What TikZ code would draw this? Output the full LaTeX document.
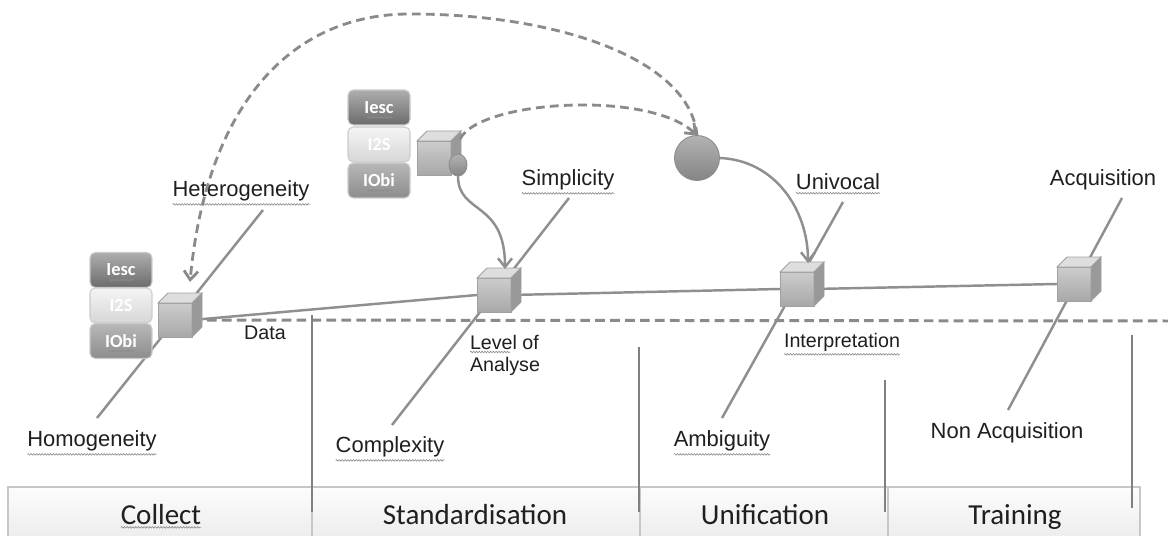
\documentclass[tikz,border=0pt]{standalone}
\usepackage{fontspec}
\setmainfont{Liberation Sans}
\newfontfamily\calib{Carlito}
\usetikzlibrary{arrows.meta,decorations.pathmorphing,shapes.geometric,backgrounds,calc}
\definecolor{lg}{HTML}{8F8F8F}
\definecolor{dg}{HTML}{8A8A8A}
\definecolor{cedge}{HTML}{A0A0A0}
\newcommand\mkcube[2]{%
  \node[cubefront] (#1) at (#2) {};
  \filldraw[cubetop] (#1.north west) -- ++(10,-10) -- ++(34,0) -- (#1.north east) -- cycle;
  \filldraw[cubeside] (#1.north east) -- ++(10,-10) -- ++(0,34) -- (#1.south east) -- cycle;
}
\newcommand\squig[1]{\draw[squiggle] ([yshift=-1.8pt]#1.south west) -- ([yshift=-1.8pt]#1.south east);}
\begin{document}
\begin{tikzpicture}[x=0.02cm,y=-0.02cm,
  lbl/.style={font=\fontsize{12.5}{14}\selectfont, inner sep=0pt, outer sep=0pt, text=black!88},
  slbl/.style={font=\fontsize{11.2}{12.6}\selectfont, inner sep=0pt, outer sep=0pt, text=black!88},
  barlbl/.style={font=\calib\fontsize{16.5}{18}\selectfont, inner sep=0pt, outer sep=0pt, anchor=base, text=black!88},
  glin/.style={draw=lg, line width=1.4pt},
  dline/.style={draw=dg, line width=1.7pt, dash pattern=on 5.5pt off 3pt},
  darc/.style={draw=dg, line width=1.6pt, dash pattern=on 5pt off 3pt, -{Straight Barb[length=5pt,width=8pt]}},
  garr/.style={draw=lg, line width=1.4pt, -{Straight Barb[length=5pt,width=8pt]}},
  cubefront/.style={minimum size=0.68cm, inner sep=0pt, outer sep=0pt, draw=cedge, line width=0.5pt, top color=black!20, bottom color=black!34},
  cubetop/.style={draw=cedge, line width=0.5pt, fill=black!13},
  cubeside/.style={draw=cedge, line width=0.5pt, fill=black!40},
  ball/.style={draw=black!45, line width=0.5pt, top color=black!30, bottom color=black!48, inner sep=0pt, outer sep=0pt},
  sbox/.style={rounded corners=3pt, minimum width=1.24cm, minimum height=0.7cm, inner sep=0pt, outer sep=0pt, font=\calib\bfseries\fontsize{10.5}{12}\selectfont, text=white, draw=black!20, line width=0.6pt},
  boxa/.style={sbox, top color=black!32, bottom color=black!58},
  boxb/.style={sbox, top color=black!4, bottom color=black!16},
  boxc/.style={sbox, top color=black!28, bottom color=black!45},
  squiggle/.style={draw=black!45, line width=0.35pt, decorate, decoration={snake, amplitude=0.45pt, segment length=1.6pt}},
  sep/.style={draw=black!50, line width=1.3pt},
  divl/.style={draw=black!22, line width=0.6pt}
]
\clip (0,0) rectangle (1168,536);

% bottom bar
\path[draw=black!22, line width=0.7pt, top color=black!1, bottom color=black!8] (8,487) rectangle (1140,545);
\draw[divl] (312,487) -- (312,540);
\draw[divl] (640,487) -- (640,540);
\draw[divl] (888,487) -- (888,540);
\node[barlbl] (collect) at (161,524) {Collect};
\node[barlbl] (stand) at (475,524) {Standardisation};
\node[barlbl] (unif) at (765,524) {Unification};
\node[barlbl] (train) at (1015,524) {Training};
\squig{collect}

% separators
\draw[sep] (312,315) -- (312,512);
\draw[sep] (639,347) -- (639,512);
\draw[sep] (885,380) -- (885,512);
\draw[sep] (1132,335) -- (1132,508);

% cubes
\mkcube{c1}{175,320}
\mkcube{c2}{494,295}
\mkcube{c3}{797,289}
\mkcube{c4}{1074,284}
\mkcube{uc}{434,158}
\node[ball, ellipse, minimum width=0.36cm, minimum height=0.44cm] (sc) at (458,165) {};
\node[ball, circle, minimum size=0.9cm] (bc) at (697,158) {};

% stacks
\node[boxa] (s1a) at (121,270) {Iesc};
\node[boxb] (s1b) at (121,305.5) {I2S};
\node[boxc] (s1c) at (121,341) {IObi};
\node[boxa] (s2a) at (379,107.5) {Iesc};
\node[boxb] (s2b) at (379,144.5) {I2S};
\node[boxc] (s2c) at (379,180.5) {IObi};
\foreach \b in {s1a,s1c,s2a,s2c}{
  \draw[squiggle] ([shift={(-12,10)}]\b.center) -- ([shift={(13,10)}]\b.center);
}

% labels
\node[lbl] (het) at (241,191) {Heterogeneity};
\node[lbl] (hom) at (92,441) {Homogeneity};
\node[lbl] (simp) at (568,180) {Simplicity};
\node[lbl] (comp) at (390,447) {Complexity};
\node[lbl] (univ) at (838,182) {Univocal};
\node[lbl] (amb) at (722,441) {Ambiguity};
\node[lbl] (acq) at (1103,180) {Acquisition};
\node[lbl] (nacq) at (1007,433) {Non Acquisition};
\node[slbl] (data) at (265,333) {Data};
\node[slbl] (interp) at (842,342) {Interpretation};
\node[slbl, align=left, anchor=north west] (level) at (470,335) {Level of\\Analyse};
\squig{het}\squig{hom}\squig{simp}\squig{comp}\squig{univ}\squig{amb}\squig{interp}
\draw[squiggle] ($(level.north west)+(0,17)$) -- ++(40,0);

% free ends of the label lines
\coordinate (l1a) at (263,210);
\coordinate (l1b) at (97,418);
\coordinate (l2a) at (569,198);
\coordinate (l2b) at (392,425);
\coordinate (l3a) at (843,202);
\coordinate (l3b) at (722,418);
\coordinate (l4a) at (1122,198);
\coordinate (l4b) at (1008,410);
\coordinate (dend) at (1170,321);

\begin{pgfonlayer}{background}
  \fill[white] (0,0) rectangle (1168,536);
  \draw[dline] (c1.east) -- (dend);
  \draw[glin] (c1.east) -- (c2.west);
  \draw[glin] (c2.east) -- (c3.west);
  \draw[glin] (c3.east) -- (c4.west);
  \draw[glin] (l1a) -- (l1b);
  \draw[glin] (l2a) -- (l2b);
  \draw[glin] (l3a) -- (l3b);
  \draw[glin] (l4a) -- (l4b);
\end{pgfonlayer}

% arrows
\draw[darc] (bc.north) .. controls (690,60) and (560,14) .. (410,14)
  .. controls (280,14) and (205,120) .. ([shift={(32,-21)}]c1.north west);
\draw[darc] ([shift={(9,-2)}]uc.north east) .. controls (480,100) and (650,90) .. (bc.north);
\draw[garr] (sc.south) .. controls (458,215) and (505,200) .. ([shift={(11,-9)}]c2.north);
\draw[garr] (bc.east) .. controls (775,160) and (808,210) .. ([shift={(11,-9)}]c3.north);
\end{tikzpicture}
\end{document}
